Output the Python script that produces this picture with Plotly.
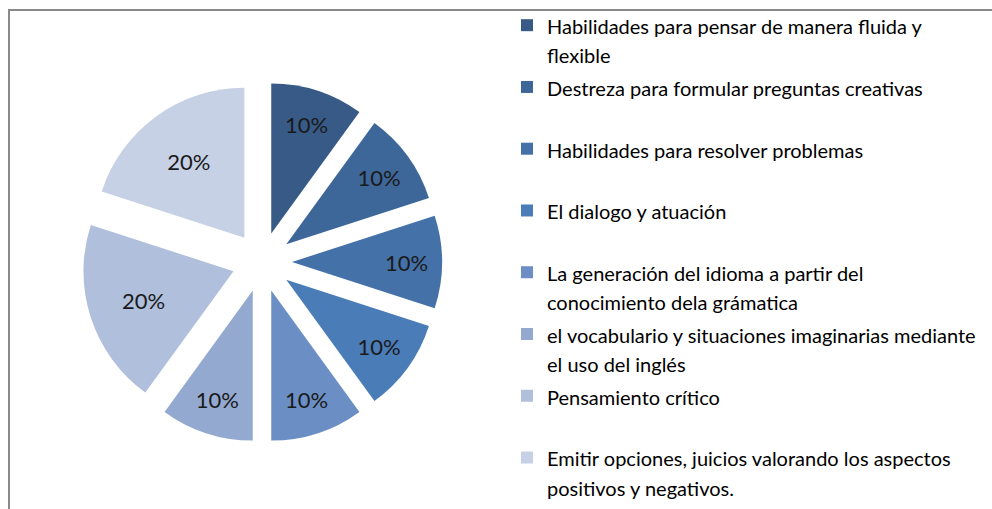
import plotly.graph_objects as go

labels = [
    ["Habilidades para pensar de manera fluida y", "flexible"],
    ["Destreza para formular preguntas creativas"],
    ["Habilidades para resolver problemas"],
    ["El dialogo y atuación"],
    ["La generación del idioma a partir del", "conocimiento dela grámatica"],
    ["el vocabulario y situaciones imaginarias mediante", "el uso del inglés"],
    ["Pensamiento crítico"],
    ["Emitir opciones, juicios valorando los aspectos", "positivos y negativos."],
]
values = [10, 10, 10, 10, 10, 10, 20, 20]
colors = ["#375A87", "#3E6799", "#4471A8", "#4A7CB8", "#6B8FC4", "#94A9D0", "#AFBFDC", "#C7D1E5"]

TXT = 20
def fmt(lines):
    ls = list(lines) + [" "] * (2 - len(lines))
    return "<br>".join(f'<span style="font-size:{TXT}px">{l}</span>' for l in ls)

names = [fmt(l) for l in labels]

fig = go.Figure(go.Pie(
    labels=names,
    values=values,
    sort=False,
    direction="clockwise",
    rotation=0,
    pull=[0.2] * len(values),
    marker=dict(colors=colors, line=dict(width=0)),
    texttemplate="%{percent:.0%}",
    textposition="inside",
    insidetextorientation="horizontal",
    textfont=dict(family="Lato, Open Sans, sans-serif", size=22, color="#1a1a1a"),
    domain=dict(x=[82 / 992, 442 / 992], y=[1 - 442 / 509, 1 - 82 / 509]),
    hoverinfo="skip",
))

fig.update_layout(
    width=992, height=509,
    margin=dict(l=0, r=0, t=0, b=0),
    paper_bgcolor="white",
    plot_bgcolor="white",
    showlegend=True,
    legend=dict(
        x=507 / 992, xanchor="left",
        y=1 - 11 / 509, yanchor="top",
        font=dict(family="Lato, Open Sans, sans-serif", size=22.6, color="#000000"),
        valign="top",
        traceorder="normal",
        bgcolor="rgba(0,0,0,0)",
    ),
    shapes=[
        dict(type="rect", xref="paper", yref="paper",
             x0=9 / 992, x1=1.05, y0=-0.05, y1=1 - 10 / 509,
             line=dict(color="#8a8a8a", width=2), fillcolor="rgba(0,0,0,0)"),
    ],
)

fig.write_html(
    "out.html",
    config={"displayModeBar": False},
    post_script="document.body.style.margin='0';document.body.style.overflow='hidden';",
)
